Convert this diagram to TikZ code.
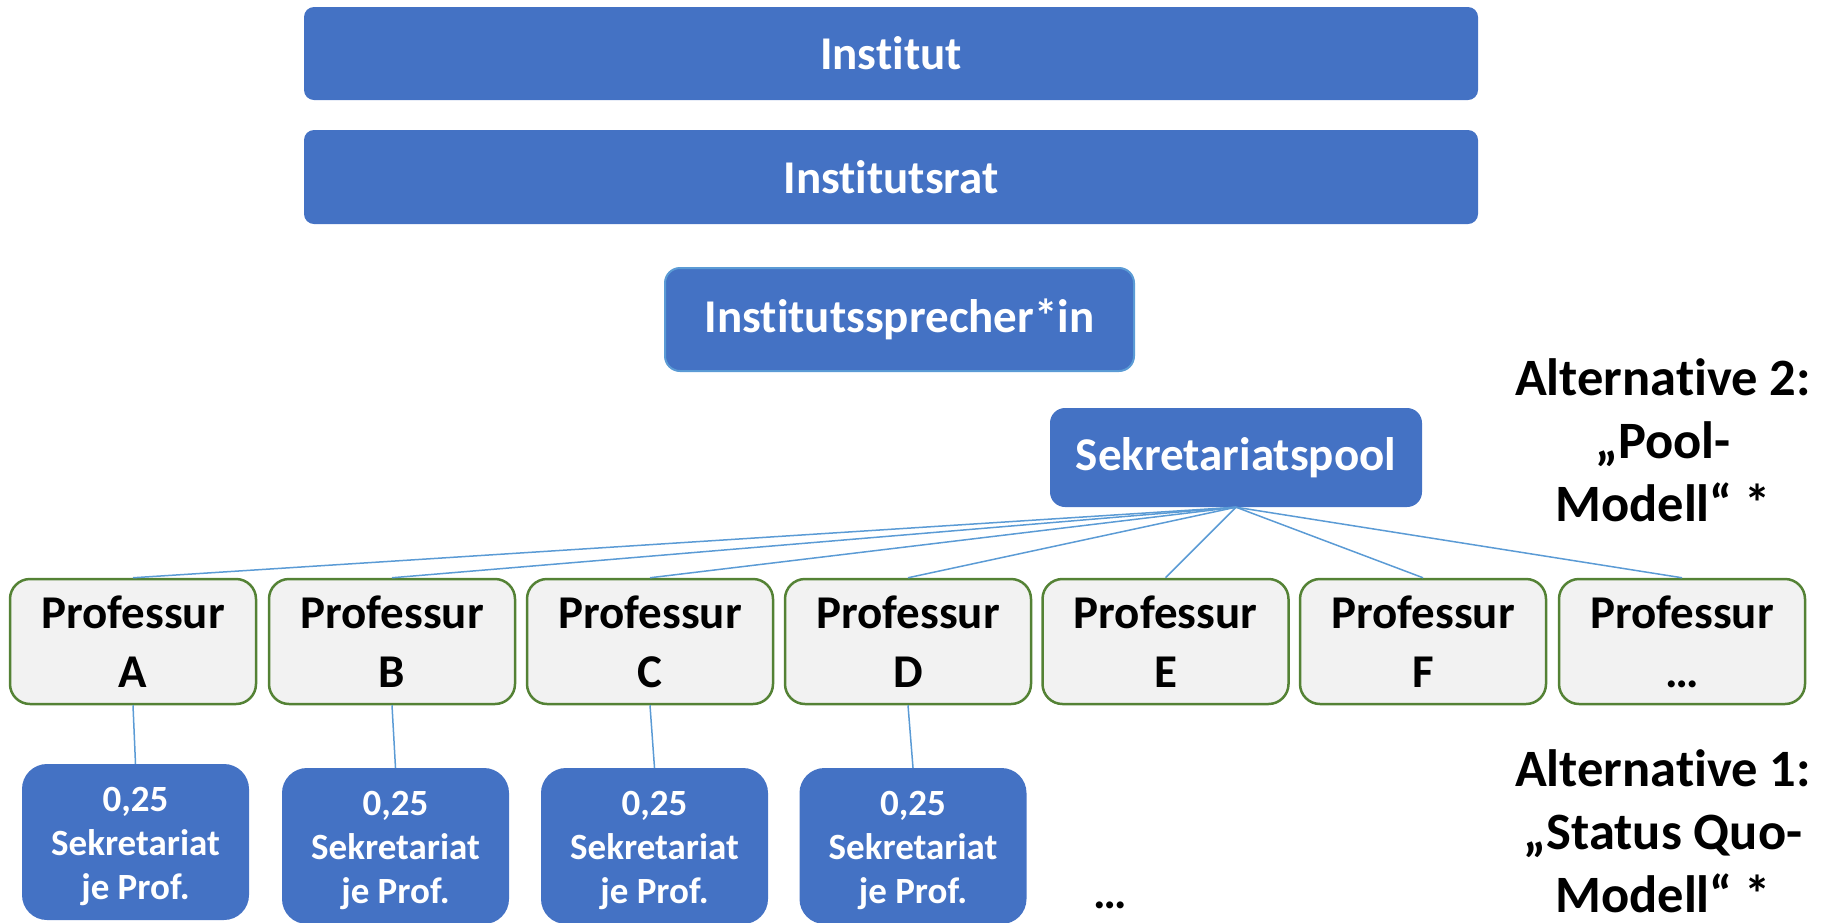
\documentclass[tikz,border=0pt]{standalone}
\usepackage{fontspec}
\setmainfont{Carlito}[RawFeature={-liga;-clig;-calt}]
\definecolor{obl}{HTML}{4472C4}
\definecolor{lbl}{HTML}{5B9BD5}
\definecolor{grn}{HTML}{548235}
\definecolor{gry}{HTML}{F2F2F2}
\begin{document}
\begin{tikzpicture}[x=1pt,y=-1pt,
 bluebar/.style={fill=obl, text=white, font=\fontsize{47}{56}\selectfont\bfseries, rounded corners=10pt, inner sep=0pt},
 profbox/.style={fill=gry, draw=grn, line width=2.5pt, rounded corners=20pt, minimum width=246pt, minimum height=125pt, align=center, font=\fontsize{47}{59}\selectfont\bfseries, inner sep=0pt},
 sekbox/.style={fill=obl, rounded corners=25pt, minimum width=227pt, minimum height=156pt, inner sep=0pt},
 sektext/.style={text=white, align=center, font=\fontsize{37}{44}\selectfont\bfseries, inner sep=0pt},
 conn/.style={draw=lbl, line width=1.5pt},
 alt/.style={align=center, font=\fontsize{52.5}{63}\selectfont\bfseries}]
\useasboundingbox (0,0) rectangle (1827,922);
\clip (0,0) rectangle (1827,922);

\node[bluebar, minimum width=1174pt, minimum height=93pt] (inst) at (891,53.5) {Institut};
\node[bluebar, minimum width=1174pt, minimum height=94pt] (rat) at (891,177) {Institutsrat};
\node[bluebar, draw=lbl, line width=2pt, rounded corners=15pt, minimum width=469pt, minimum height=103pt] (spr) at (899.5,319.5) {Institutssprecher*in};
\node[bluebar, rounded corners=15pt, minimum width=372pt, minimum height=99pt] (pool) at (1236,457.5) {Sekretariatspool};

\node[profbox] (pA) at (133,641.5) {Professur\\A};
\node[profbox] (pB) at (392,641.5) {Professur\\B};
\node[profbox] (pC) at (650,641.5) {Professur\\C};
\node[profbox] (pD) at (908,641.5) {Professur\\D};
\node[profbox] (pE) at (1165.5,641.5) {Professur\\E};
\node[profbox] (pF) at (1423,641.5) {Professur\\F};
\node[profbox] (pG) at (1682,641.5) {Professur\\…};

\foreach \p in {pA,pB,pC,pD,pE,pF,pG}
  \draw[conn] (pool.south) -- (\p.north);

\node[sekbox] (sA) at (135.5,842) {};
\node[sekbox] (sB) at (395.5,846) {};
\node[sekbox] (sC) at (654.5,846) {};
\node[sekbox] (sD) at (913,846) {};
\foreach \s in {sA,sB,sC,sD}
  \node[sektext] (\s t) at ([yshift=-4pt]\s.center) {0,25\\Sekretariat\\je Prof.};

\draw[conn] (pA.south) -- (sA.north);
\draw[conn] (pB.south) -- (sB.north);
\draw[conn] (pC.south) -- (sC.north);
\draw[conn] (pD.south) -- (sD.north);

\node[font=\fontsize{47}{56}\selectfont\bfseries, anchor=base] (dots) at (1110,908) {…};

\node[alt] (alt2) at (1663,440) {Alternative 2:\\„Pool-\\Modell“ *};
\node[alt] (alt1) at (1663,831) {Alternative 1:\\„Status Quo-\\Modell“ *};
\end{tikzpicture}
\end{document}
